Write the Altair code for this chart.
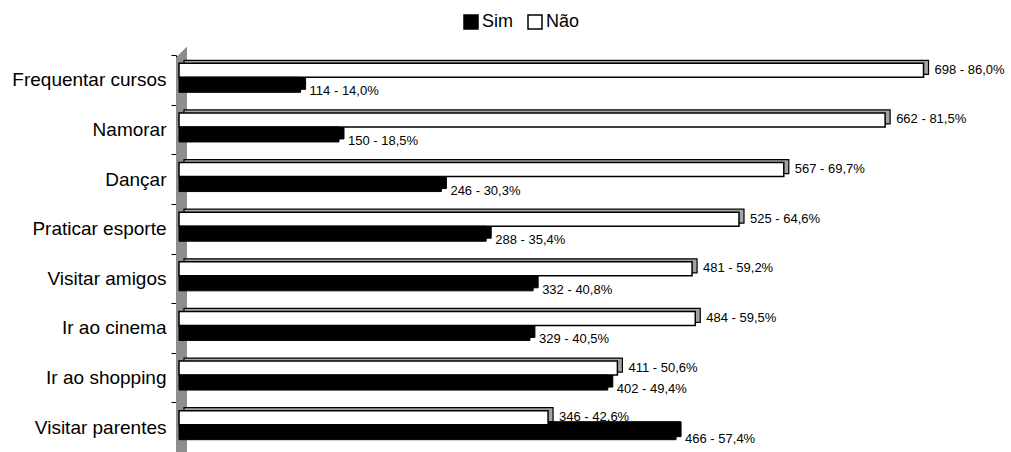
import altair as alt
import pandas as pd

# Activities and answers (count and share of respondents)
categories = [
    "Frequentar cursos", "Namorar", "Dançar", "Praticar esporte",
    "Visitar amigos", "Ir ao cinema", "Ir ao shopping", "Visitar parentes",
]
sim_counts = [114, 150, 246, 288, 332, 329, 402, 466]
sim_pcts = [14.0, 18.5, 30.3, 35.4, 40.8, 40.5, 49.4, 57.4]
nao_counts = [698, 662, 567, 525, 481, 484, 411, 346]
nao_pcts = [86.0, 81.5, 69.7, 64.6, 59.2, 59.5, 50.6, 42.6]
series_names = ["Sim", "Não"]


def label(count, pct):
    return f"{count} - {pct:.1f}%".replace(".", ",")


rows = []
for cat, sc, sp, nc, np_ in zip(categories, sim_counts, sim_pcts, nao_counts, nao_pcts):
    rows.append({"atividade": cat, "serie": "Sim", "valor": sc, "rotulo": label(sc, sp)})
    rows.append({"atividade": cat, "serie": "Não", "valor": nc, "rotulo": label(nc, np_)})
df = pd.DataFrame(rows)

FONT = "Liberation Sans"
PLOT_W, PLOT_H = 832, 397

x_scale = alt.Scale(domain=[0, 780], nice=False, zero=True)
y_enc = alt.Y(
    "atividade:N",
    sort=categories,
    scale=alt.Scale(paddingInner=0, paddingOuter=0),
    axis=alt.Axis(
        title=None, domain=True, domainColor="black", domainWidth=1, offset=3,
        ticks=True, tickBand="extent", tickSize=5, tickColor="black",
        labelFont=FONT, labelFontSize=19, labelColor="black", labelPadding=5,
        labelLimit=0, grid=False,
    ),
)
x_enc = alt.X("valor:Q", scale=x_scale, axis=None)
x2_zero = alt.X2(datum=0)
fill_enc = alt.Fill(
    "serie:N",
    scale=alt.Scale(domain=series_names, range=["black", "white"]),
    legend=alt.Legend(
        title=None, orient="none", legendX=283, legendY=-42, direction="horizontal",
        symbolType="square", symbolSize=196, symbolStrokeColor="black",
        symbolStrokeWidth=1.5, labelFont=FONT, labelFontSize=18, labelColor="black",
        labelOffset=2, columnPadding=12, padding=0,
    ),
)

base = alt.Chart(df)

# Gray side wall of the 3D frame
wall = base.mark_rect(color="#8e8e8e", xOffset=-2.5, x2Offset=7.5).encode(
    x=alt.X(datum=0, scale=x_scale, axis=None), x2=alt.X2(datum=0),
    y=alt.value(3), y2=alt.value(PLOT_H),
)
wall_top = base.mark_point(
    shape="M -1 1 L 1 -1 L 1 1 Z", size=100, filled=True, color="#8e8e8e",
    opacity=1, xOffset=2.5,
).encode(x=alt.X(datum=0, scale=x_scale, axis=None), y=alt.value(-2.5))

# Depth faces of the bars (drawn behind, shifted up-right)
DX, DY = 5, -3
nao_back = base.transform_filter(alt.datum.serie == "Não").mark_bar(
    height=14, yOffset=-9.5 + DY, xOffset=DX, x2Offset=DX,
    fill="#a3a3a3", stroke="black", strokeWidth=1.2,
).encode(x=x_enc, x2=x2_zero, y=y_enc)
sim_back = base.transform_filter(alt.datum.serie == "Sim").mark_bar(
    height=15, yOffset=5 + DY, xOffset=DX, x2Offset=DX,
    fill="black", stroke="black", strokeWidth=1,
).encode(x=x_enc, x2=x2_zero, y=y_enc)

# Front faces
nao_front = base.transform_filter(alt.datum.serie == "Não").mark_bar(
    height=14, yOffset=-9.5, stroke="black", strokeWidth=1.5,
).encode(x=x_enc, x2=x2_zero, y=y_enc, fill=fill_enc)
sim_front = base.transform_filter(alt.datum.serie == "Sim").mark_bar(
    height=15, yOffset=5, stroke="black", strokeWidth=1,
).encode(x=x_enc, x2=x2_zero, y=y_enc, fill=fill_enc)

# Value labels
nao_text = base.transform_filter(alt.datum.serie == "Não").mark_text(
    align="left", baseline="middle", dx=11, dy=-10, font=FONT, fontSize=13, color="black",
).encode(x=x_enc, y=y_enc, text="rotulo:N")
sim_text = base.transform_filter(alt.datum.serie == "Sim").mark_text(
    align="left", baseline="middle", dx=9, dy=11.5, font=FONT, fontSize=13, color="black",
).encode(x=x_enc, y=y_enc, text="rotulo:N")

chart = alt.layer(
    wall, wall_top, nao_back, sim_back, nao_front, sim_front, nao_text, sim_text
).properties(
    width=PLOT_W, height=PLOT_H,
    autosize=alt.AutoSizeParams(type="none"),
    padding={"left": 179, "top": 55, "right": 0, "bottom": 0},
    background="white",
).configure_view(stroke=None)

chart.save("out.html", embed_options={"renderer": "svg", "actions": False})
